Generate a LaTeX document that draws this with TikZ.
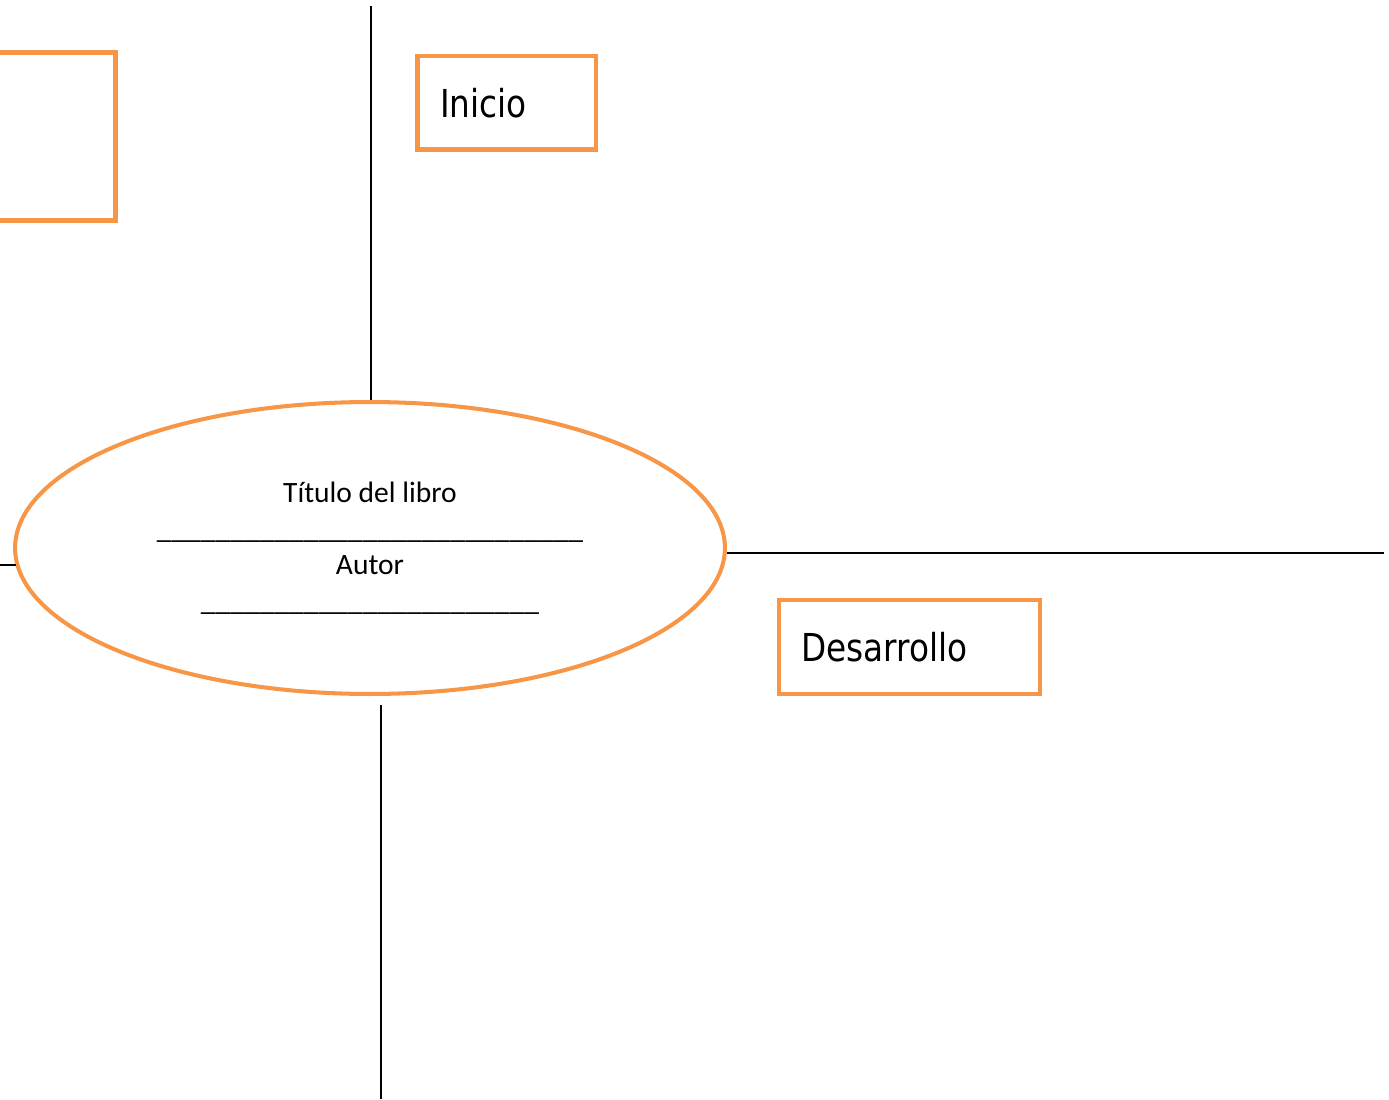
\documentclass[tikz,border=0pt]{standalone}
\usepackage{fontspec}
\setmainfont{Carlito}
\newfontfamily\boxfont{DejaVu Sans}[FakeStretch=0.85]
\usetikzlibrary{shapes.geometric, positioning}
\definecolor{boxorange}{HTML}{F79646}
\tikzset{
  labelbox/.style={draw=boxorange, line width=2.4pt, rectangle, inner xsep=0.45cm,
    minimum height=1.87cm, align=left, font=\boxfont\fontsize{21.9}{26}\selectfont},
  guide/.style={draw=black, line width=0.8pt}
}

\begin{document}
\begin{tikzpicture}[x=0.02cm, y=-0.02cm]
    \clip (0,0) rectangle (1389,1099);
    % Central ellipse: title and author
    \node[ellipse, draw=boxorange, line width=2.3pt, minimum width=14.2cm, minimum height=5.84cm,
      align=center, font=\fontsize{16.8}{20.5}\selectfont] (book) at (370,548)
      {Título del libro\\
       \_\_\_\_\_\_\_\_\_\_\_\_\_\_\_\_\_\_\_\_\_\_\_\_\_\_\_\_\_\\
       Autor\\
       \_\_\_\_\_\_\_\_\_\_\_\_\_\_\_\_\_\_\_\_\_\_\_};
    % Guide lines around the ellipse
    \coordinate (topend) at (371,6);
    \coordinate (leftend) at (0,565);
    \coordinate (lefthit) at (16,565);
    \coordinate (rightend) at (1384,553);
    \coordinate (botstart) at (381,705);
    \coordinate (botend) at (381,1099);
    \draw[guide] (topend) -- (topend |- book.north);
    \draw[guide] (leftend) -- (lefthit);
    \draw[guide] (rightend -| book.east) -- (rightend);
    \draw[guide] (botstart) -- (botend);
    % Label boxes
    \node[labelbox, minimum width=3.91cm, minimum height=3.36cm] (blank) at (17.75,136.5) {};
    \node[labelbox, text width=2.67cm] (inicio) at (506.75,102.75) {Inicio};
    \node[labelbox, text width=4.32cm] (desarrollo) at (909.5,647) {Desarrollo};
\end{tikzpicture}
\end{document}
